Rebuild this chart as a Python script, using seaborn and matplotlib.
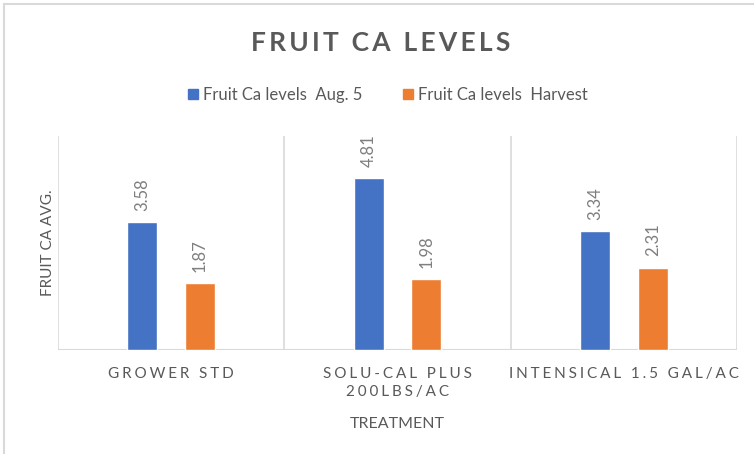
import pandas as pd
import numpy as np
import seaborn as sns
import matplotlib.pyplot as plt
from matplotlib.lines import Line2D

# data
treatments = ["GROWER STD", "SOLU-CAL PLUS\n200LBS/AC", "INTENSICAL 1.5 GAL/AC"]
series = ["Fruit Ca levels  Aug. 5", "Fruit Ca levels  Harvest"]
aug5 = [3.58, 4.81, 3.34]
harvest = [1.87, 1.98, 2.31]
colors = ["#4472C4", "#ED7D31"]

sns.set_style("white")
plt.rcParams['font.family'] = ['Lato', 'DejaVu Sans']

gray = "#595959"
grid = "#D9D9D9"


def spaced(s, sp="\u2009"):
    # fake letter spacing, line by line
    return "\n".join(sp.join(line) for line in s.split("\n"))


rows = []
for t, a, h in zip(treatments, aug5, harvest):
    rows.append([t, series[0], a])
    rows.append([t, series[1], h])
df = pd.DataFrame(rows, columns=["Treatment", "Series", "Fruit Ca"])

fig = plt.figure(figsize=(7.54, 4.54), dpi=100)
ax = fig.add_axes([58/754, 1-350/454, (737-58)/754, (350-136)/454])

sns.barplot(data=df, x="Treatment", y="Fruit Ca", hue="Series", palette=colors,
            width=0.51, gap=0.48, ax=ax, legend=False, saturation=1)

for c in ax.containers:
    ax.bar_label(c, fmt="%.2f", rotation=90, padding=8, color="#7F7F7F", fontsize=12)

ax.set_ylim(0, 6)
ax.set_xlim(-0.5, 2.5)
ax.set_yticks([])
for s in ax.spines.values():
    s.set_visible(False)
ax.axhline(0, color=grid, lw=1.5, zorder=0)
for xv in [-0.5, 0.5, 1.5, 2.5]:
    ax.axvline(xv, color=grid, lw=1.2, zorder=0)

ax.set_xticks(range(len(treatments)))
ax.set_xticklabels([spaced(t, "\u2009\u200a") for t in treatments], fontsize=11,
                   color=gray, linespacing=1.4)
ax.tick_params(axis="x", length=0, pad=12)
ax.set_xlabel("TREATMENT", fontsize=11.5, color=gray, labelpad=13)
ax.set_ylabel("FRUIT CA AVG.", fontsize=11, color=gray, labelpad=2)

fig.text(0.505, 1-43/454, spaced("FRUIT CA LEVELS"), ha="center", va="center",
         fontsize=19, fontweight="bold", color=gray)

handles = [Line2D([], [], marker="s", ls="", color=c, markersize=7) for c in colors]
fig.legend(handles, series, loc="center", bbox_to_anchor=(0.512, 1-95/454),
           ncol=2, frameon=False, fontsize=12, labelcolor=gray,
           handletextpad=0.1, columnspacing=2.2, handlelength=1)

# outer chart border (only top and left are visible)
fig.add_artist(Line2D([4/754, 1], [1-4/454, 1-4/454], color=grid, lw=1.5))
fig.add_artist(Line2D([4/754, 4/754], [0, 1-4/454], color=grid, lw=1.5))

plt.savefig("out.png", dpi=100)
